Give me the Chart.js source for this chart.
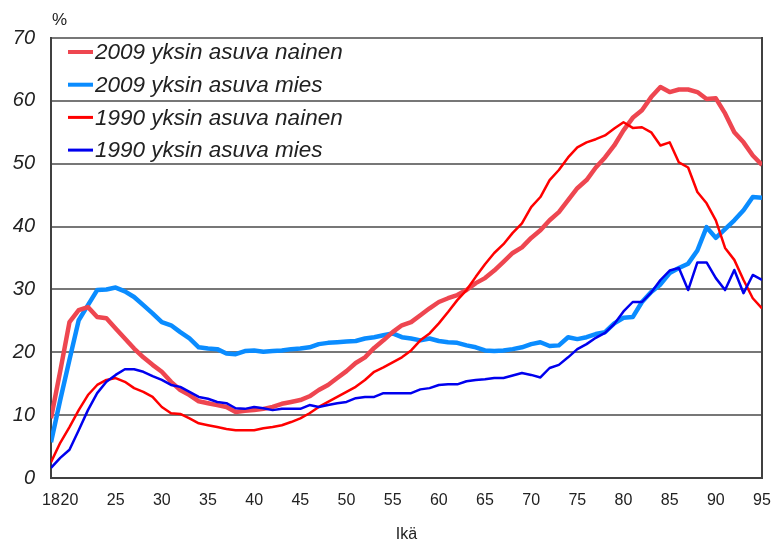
<!DOCTYPE html>
<html>
<head>
<meta charset="utf-8">
<title>Yksin asuvat iän mukaan 1990 ja 2009</title>
<script src="https://cdn.jsdelivr.net/npm/chart.js@4.4.1/dist/chart.umd.min.js"></script>
<style>
  html, body { margin: 0; padding: 0; background: #fff; }
  #wrap { position: relative; width: 775px; height: 548px; }
</style>
</head>
<body>
<div id="wrap"><canvas id="chart"></canvas></div>
<script>
/*
 * Yksin asuvien osuus (%) iän mukaan, 1990 ja 2009.
 * Values, one per age 18..95.
 */

const ages = [
    18, 19, 20, 21, 22, 23, 24, 25, 26, 27, 28, 29, 30, 31, 32, 33, 34, 35, 36, 37,
    38, 39, 40, 41, 42, 43, 44, 45, 46, 47, 48, 49, 50, 51, 52, 53, 54, 55, 56, 57,
    58, 59, 60, 61, 62, 63, 64, 65, 66, 67, 68, 69, 70, 71, 72, 73, 74, 75, 76, 77,
    78, 79, 80, 81, 82, 83, 84, 85, 86, 87, 88, 89, 90, 91, 92, 93, 94, 95
];

const nainen2009 = [
    9.5, 17, 24.8, 26.7, 27.2, 25.6, 25.4, 23.8, 22.2, 20.6, 19.2, 18, 16.9, 15.3, 14, 13.2, 12.2, 11.9, 11.6, 11.3,
    10.5, 10.7, 10.8, 11, 11.3, 11.8, 12.1, 12.4, 13, 14, 14.8, 15.9, 17, 18.3, 19.2, 20.7, 21.9, 23.2, 24.3, 24.8,
    25.9, 27, 28, 28.6, 29.1, 29.9, 31, 31.8, 33, 34.4, 35.8, 36.7, 38.2, 39.4, 41, 42.3, 44.2, 46.1, 47.4, 49.4,
    51, 52.9, 55.3, 57.3, 58.5, 60.6, 62.2, 61.4, 61.8, 61.8, 61.4, 60.3, 60.4, 58, 55, 53.4, 51.3, 49.8
];

const mies2009 = [
    5.7, 12.4, 18.8, 25.1, 27.5, 29.9, 30, 30.3, 29.7, 28.8, 27.5, 26.2, 24.8, 24.3, 23.2, 22.2, 20.8, 20.6, 20.5, 19.8,
    19.7, 20.2, 20.3, 20.1, 20.2, 20.3, 20.5, 20.6, 20.8, 21.3, 21.5, 21.6, 21.7, 21.8, 22.2, 22.4, 22.7, 23, 22.4, 22.2,
    21.9, 22.2, 21.8, 21.6, 21.5, 21.1, 20.8, 20.3, 20.2, 20.3, 20.5, 20.8, 21.3, 21.6, 21, 21.1, 22.4, 22.1, 22.4, 22.9,
    23.2, 24.6, 25.5, 25.6, 28, 29.6, 30.8, 32.6, 33.4, 34.1, 36.2, 39.9, 38.2, 39.6, 41, 42.6, 44.7, 44.6
];

const nainen1990 = [
    2.5, 5.6, 8.1, 10.8, 13.2, 14.8, 15.6, 15.9, 15.3, 14.3, 13.7, 12.9, 11.3, 10.3, 10.2, 9.5, 8.7, 8.4, 8.1, 7.8,
    7.6, 7.6, 7.6, 7.9, 8.1, 8.4, 8.9, 9.5, 10.3, 11.3, 12.1, 12.9, 13.7, 14.5, 15.6, 16.9, 17.6, 18.4, 19.2, 20.3,
    21.9, 23, 24.6, 26.4, 28.3, 29.9, 32, 34, 35.8, 37.2, 39, 40.5, 43.1, 44.7, 47.4, 49, 51, 52.6, 53.4, 53.9,
    54.5, 55.6, 56.6, 55.7, 55.8, 55, 52.9, 53.4, 50.2, 49.4, 45.5, 43.7, 41, 36.6, 34.7, 31.5, 28.6, 27
];

const mies1990 = [
    1.6, 3.2, 4.5, 7.6, 10.8, 13.5, 15.3, 16.4, 17.3, 17.3, 16.9, 16.2, 15.6, 14.8, 14.5, 13.7, 12.9, 12.6, 12.1, 11.9,
    11.1, 11, 11.3, 11.1, 10.8, 11, 11, 11, 11.6, 11.3, 11.6, 11.9, 12.1, 12.7, 12.9, 12.9, 13.5, 13.5, 13.5, 13.5,
    14.1, 14.3, 14.8, 14.9, 14.9, 15.4, 15.6, 15.7, 15.9, 15.9, 16.3, 16.7, 16.4, 16, 17.5, 18, 19.2, 20.5, 21.3, 22.3,
    23.1, 24.5, 26.5, 28, 28, 29.5, 31.5, 33, 33.4, 29.9, 34.3, 34.3, 31.8, 29.9, 33.1, 29.4, 32.3, 31.5
];

const seriesNames = [
    '2009 yksin asuva nainen',
    '2009 yksin asuva mies',
    '1990 yksin asuva nainen',
    '1990 yksin asuva mies'
];

const xTicks = [18, 20, 25, 30, 35, 40, 45, 50, 55, 60, 65, 70, 75, 80, 85, 90, 95];

const FONT = '"Liberation Sans", Arial, sans-serif';
const TEXT = '#222';

// turn an age list and a value list into {x, y} points for the linear x axis
function toPoints(values) {
    return ages.map((age, i) => ({ x: age, y: values[i] }));
}

/*
 * Draws the "%" unit label and the legend inside the plot area,
 * top left, the way the original has it.
 */
const insideLegend = {
    id: 'insideLegend',
    afterDraw(chart) {
        const { ctx, chartArea } = chart;
        ctx.save();
        ctx.fillStyle = TEXT;
        ctx.textAlign = 'left';
        ctx.textBaseline = 'middle';
        ctx.font = '17px ' + FONT;
        ctx.fillText('%', chartArea.left + 1, chartArea.top - 18);

        ctx.font = 'italic 22.5px ' + FONT;
        chart.data.datasets.forEach((ds, i) => {
            const y = chartArea.top + 14 + i * 32.7;
            ctx.strokeStyle = ds.borderColor;
            ctx.lineWidth = ds.borderWidth > 3 ? 4 : 3;
            ctx.beginPath();
            ctx.moveTo(chartArea.left + 17, y);
            ctx.lineTo(chartArea.left + 42, y);
            ctx.stroke();
            ctx.fillStyle = TEXT;
            ctx.fillText(ds.label, chartArea.left + 44, y + 1);
        });
        ctx.restore();
    }
};

const ctx = document.getElementById('chart').getContext('2d');
new Chart(ctx, {
    type: 'line',
    data: {
        datasets: [
            {
                label: seriesNames[0],
                data: toPoints(nainen2009),
                borderColor: '#ee4650',
                borderWidth: 4.5,
                order: 2
            },
            {
                label: seriesNames[1],
                data: toPoints(mies2009),
                borderColor: '#0a8cff',
                borderWidth: 4.5,
                order: 3
            },
            {
                label: seriesNames[2],
                data: toPoints(nainen1990),
                borderColor: '#ff0000',
                borderWidth: 2.5,
                order: 1
            },
            {
                label: seriesNames[3],
                data: toPoints(mies1990),
                borderColor: '#0000ee',
                borderWidth: 2.5,
                order: 0
            }
        ]
    },
    options: {
        responsive: true,
        maintainAspectRatio: false,
        animation: false,
        events: [],
        elements: {
            point: { radius: 0 },
            line: { tension: 0, fill: false, borderJoinStyle: 'round', borderCapStyle: 'butt' }
        },
        layout: {
            padding: { top: 38, right: 13, left: 0, bottom: 0 }
        },
        plugins: {
            legend: { display: false },
            tooltip: { enabled: false }
        },
        scales: {
            x: {
                type: 'linear',
                min: 18,
                max: 95,
                afterBuildTicks: (scale) => {
                    scale.ticks = xTicks.map((v) => ({ value: v }));
                },
                afterFit: (scale) => {
                    // fixed axis band; end labels may hang over the edges
                    scale.height = 70;
                    scale.paddingLeft = 0;
                    scale.paddingRight = 0;
                },
                ticks: {
                    autoSkip: false,
                    maxRotation: 0,
                    padding: 13,
                    color: TEXT,
                    font: { family: FONT, size: 16 },
                    callback: (v) => String(v)
                },
                grid: { display: false, drawTicks: false },
                border: { display: true, color: '#404040', width: 2 },
                title: {
                    display: true,
                    text: 'Ikä',
                    color: TEXT,
                    font: { family: FONT, size: 16 },
                    padding: { top: 4, bottom: 4 }
                }
            },
            y: {
                min: 0,
                max: 70,
                afterFit: (scale) => {
                    scale.width = 51;
                    scale.paddingTop = 0;
                    scale.paddingBottom = 0;
                },
                ticks: {
                    stepSize: 10,
                    padding: 16,
                    color: TEXT,
                    font: { family: FONT, size: 20, style: 'italic' }
                },
                grid: { color: '#777777', lineWidth: 2, drawTicks: false },
                border: { display: true, color: '#404040', width: 2 }
            },
            yRight: {
                position: 'right',
                min: 0,
                max: 70,
                afterFit: (scale) => {
                    scale.width = 0;
                    scale.paddingTop = 0;
                    scale.paddingBottom = 0;
                },
                ticks: { display: false },
                grid: { display: false, drawTicks: false },
                border: { display: true, color: '#404040', width: 2 }
            }
        }
    },
    plugins: [insideLegend]
});
</script>
</body>
</html>
